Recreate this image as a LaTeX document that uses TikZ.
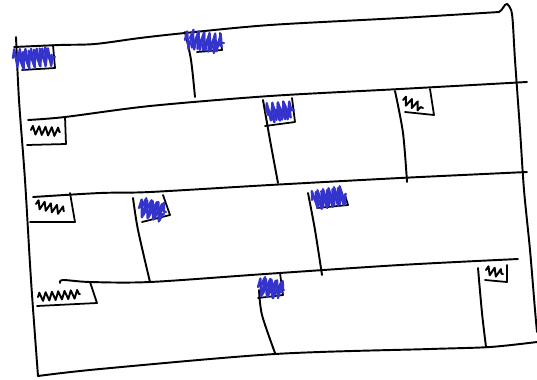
\documentclass[tikz,border=0pt]{standalone}
\usetikzlibrary{decorations.pathmorphing}
\definecolor{marker}{RGB}{52,52,204}
\begin{document}
\begin{tikzpicture}[
    x=0.02cm, y=-0.02cm,
    line cap=round, line join=round,
    ink/.style={draw=black, line width=1.1pt},
    tab/.style={draw=black, line width=1pt},
    hatch/.style={draw=marker, line width=1.3pt, decorate,
      decoration={zigzag, segment length=3.2pt, amplitude=5pt}},
    squiggle/.style={draw=black, line width=1.1pt, decorate,
      decoration={zigzag, segment length=3.6pt, amplitude=2.4pt}},
  ]
  \useasboundingbox (0,0) rectangle (537,379);
  % sheet
  \draw[ink] plot[smooth] coordinates {(16,37) (19,100) (25,180) (31,280) (38,376)};
  \draw[ink] plot[smooth] coordinates {(14,47) (60,45) (95,44) (140,38) (185,33) (270,25) (400,18) (499,12)}
    .. controls (503,10) and (504,4) .. (507,4);
  \draw[ink] plot[smooth] coordinates {(507,4) (512,14) (515,60) (520,130) (524,190) (530,250) (535,310) (537,332)};
  \draw[ink] plot[smooth] coordinates {(537,342) (490,347) (430,349) (275,354) (100,369) (38,376)};
  % rows
  \draw[ink] plot[smooth] coordinates {(28,120) (65,117) (150,106) (270,96) (400,89) (527,82)};
  \draw[ink] plot[smooth] coordinates {(33,197) (100,193) (150,192) (270,185) (400,178) (527,172)};
  \draw[ink] plot[smooth] coordinates {(60,283) (63,280) (90,282) (150,282) (265,274) (400,265) (518,259)};
  % columns
  \draw[ink] plot[smooth] coordinates {(185,32) (191,60) (195,97)};
  \draw[ink] plot[smooth] coordinates {(263,100) (270,140) (278,183)};
  \draw[ink] plot[smooth] coordinates {(395,91) (403,133) (407,182)};
  \draw[ink] plot[smooth] coordinates {(133,198) (138,230) (150,282)};
  \draw[ink] plot[smooth] coordinates {(308,193) (315,230) (322,275)};
  \draw[ink] plot[smooth] coordinates {(259,290) (262,315) (275,353)};
  \draw[ink] plot[smooth] coordinates {(478,268) (482,313) (486,347)};
  % tabs
  \draw[tab] (53,45) -- (55,68) -- (22,70);
  \draw[hatch] (13,58) -- (55,57);
  \draw[hatch] (18,62) -- (52,55);
  \draw[tab] (220,33) -- (222,50) -- (197,52);
  \draw[hatch] (185,40) -- (224,43);
  \draw[hatch] (190,38) -- (222,46);
  \draw[tab] (65,117) -- (66,144) -- (27,145);
  \draw[squiggle] (31,130) -- (60,132);
  \draw[tab] (292,98) -- (295,122) -- (265,126);
  \draw[hatch] (266,112) -- (294,110);
  \draw[hatch] (268,115) -- (292,108);
  \draw[tab] (430,89) -- (434,115) -- (405,112);
  \draw[squiggle] (403,100) -- (423,108);
  \draw[tab] (70,193) -- (75,222) -- (30,222);
  \draw[squiggle] (36,204) -- (64,211);
  \draw[tab] (163,195) -- (170,215) -- (142,222);
  \draw[hatch] (139,208) -- (166,212);
  \draw[hatch] (142,206) -- (164,214);
  \draw[tab] (345,195) -- (348,205) -- (317,208);
  \draw[hatch] (312,200) -- (346,194);
  \draw[hatch] (316,201) -- (344,196);
  \draw[tab] (90,282) -- (97,303) -- (37,306);
  \draw[squiggle] (38,297) -- (80,294);
  \draw[tab] (280,273) -- (283,295) -- (258,298);
  \draw[hatch] (258,287) -- (284,290);
  \draw[hatch] (261,285) -- (282,292);
  \draw[tab] (507,265) -- (507,282) -- (485,280);
  \draw[squiggle] (486,270) -- (503,274);
\end{tikzpicture}
\end{document}
